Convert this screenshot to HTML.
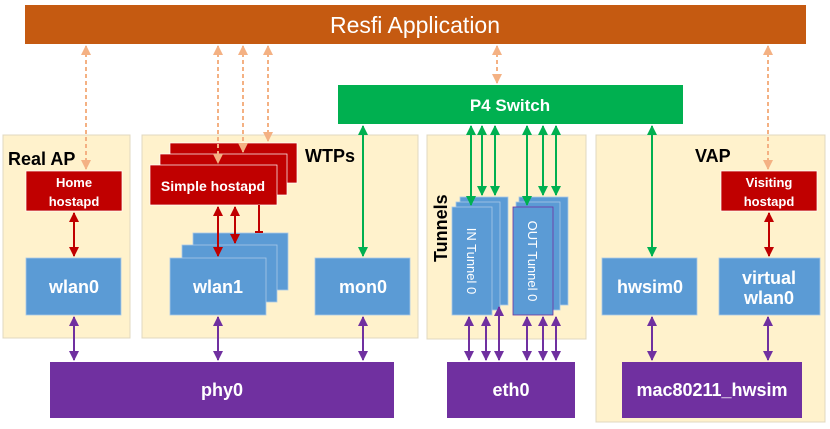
<!DOCTYPE html>
<html><head><meta charset="utf-8"><style>body{margin:0;background:#fff}svg{display:block}text{font-family:"Liberation Sans",sans-serif;font-weight:bold}</style></head><body>
<svg width="830" height="429" viewBox="0 0 830 429" xmlns="http://www.w3.org/2000/svg">
<defs>
<marker id="ao" viewBox="0 0 10 10" refX="9" refY="5" markerWidth="5" markerHeight="5" orient="auto-start-reverse"><path d="M0,0L10,5L0,10z" fill="#F4B183"/></marker>
<marker id="ag" viewBox="0 0 10 10" refX="9" refY="5" markerWidth="5" markerHeight="5" orient="auto-start-reverse"><path d="M0,0L10,5L0,10z" fill="#00B050"/></marker>
<marker id="ar" viewBox="0 0 10 10" refX="9" refY="5" markerWidth="5" markerHeight="5" orient="auto-start-reverse"><path d="M0,0L10,5L0,10z" fill="#C00000"/></marker>
<marker id="ap" viewBox="0 0 10 10" refX="9" refY="5" markerWidth="5" markerHeight="5" orient="auto-start-reverse"><path d="M0,0L10,5L0,10z" fill="#7030A0"/></marker>
</defs>
<rect x="25" y="5" width="781" height="39" fill="#C55A11"/>
<text x="415" y="33" font-size="23" fill="#fff" text-anchor="middle" style="font-weight:normal">Resfi Application</text>
<rect x="338" y="85" width="345" height="39" fill="#00B050"/>
<text x="510" y="111" font-size="17" fill="#fff" text-anchor="middle">P4 Switch</text>
<g fill="#FFF2CC" stroke="#E0D8C0">
<rect x="3" y="135" width="127" height="203"/>
<rect x="142" y="135" width="276" height="203"/>
<rect x="427" y="135" width="159" height="204"/>
<rect x="596" y="135" width="229" height="287"/>
</g>
<text x="8" y="165" font-size="18" fill="#000">Real AP</text>
<text x="305" y="162" font-size="18" fill="#000">WTPs</text>
<text x="695" y="162" font-size="18" fill="#000">VAP</text>
<text transform="translate(447,262) rotate(-90)" font-size="18" fill="#000">Tunnels</text>
<g fill="#C00000" stroke="#fff" stroke-width="0.7">
<rect x="26" y="171" width="96" height="40"/>
<rect x="170" y="143" width="127" height="40"/>
<rect x="160" y="154" width="127" height="41"/>
<rect x="150" y="165" width="127" height="40"/>
<rect x="721" y="171" width="96" height="40"/>
</g>
<g fill="#fff" font-size="13" text-anchor="middle">
<text x="74" y="187">Home</text><text x="74" y="206">hostapd</text>
<text x="213" y="191" font-size="14">Simple hostapd</text>
<text x="769" y="187">Visiting</text><text x="769" y="206">hostapd</text>
</g>
<g fill="#5B9BD5" stroke="#A9C8E8" stroke-width="0.8">
<rect x="26" y="258" width="95" height="57"/>
<rect x="193" y="233" width="95" height="57"/>
<rect x="182" y="245" width="95" height="57"/>
<rect x="170" y="258" width="96" height="57"/>
<rect x="315" y="258" width="95" height="57"/>
<rect x="460" y="197" width="48" height="108"/>
<rect x="456" y="202" width="44" height="108"/>
<rect x="452" y="207" width="40" height="108"/>
<rect x="519" y="197" width="49" height="108"/>
<rect x="516" y="202" width="44" height="108"/>
<rect x="602" y="258" width="95" height="57"/>
<rect x="719" y="258" width="101" height="57"/>
</g>
<rect x="513" y="207" width="40" height="108" fill="#5B9BD5" stroke="#7030A0" stroke-width="0.8"/>
<g fill="#fff" font-size="18" text-anchor="middle">
<text x="74" y="293">wlan0</text>
<text x="218" y="293">wlan1</text>
<text x="363" y="293">mon0</text>
<text x="650" y="293">hwsim0</text>
<text x="769" y="284">virtual</text><text x="769" y="304">wlan0</text>
</g>
<text transform="translate(467,261) rotate(90)" font-size="13" fill="#fff" text-anchor="middle" style="font-weight:normal">IN Tunnel 0</text>
<text transform="translate(528,261) rotate(90)" font-size="13" fill="#fff" text-anchor="middle" style="font-weight:normal">OUT Tunnel 0</text>
<g fill="#7030A0">
<rect x="50" y="362" width="344" height="56"/>
<rect x="447" y="362" width="128" height="56"/>
<rect x="622" y="362" width="180" height="56"/>
</g>
<g fill="#fff" font-size="18" text-anchor="middle">
<text x="222" y="396">phy0</text><text x="511" y="396">eth0</text><text x="712" y="396">mac80211_hwsim</text>
</g>
<g stroke="#F4B183" stroke-width="2" stroke-dasharray="4,3" marker-start="url(#ao)" marker-end="url(#ao)">
<line x1="86" y1="46" x2="86" y2="169"/>
<line x1="218" y1="46" x2="218" y2="163"/>
<line x1="243" y1="46" x2="243" y2="152"/>
<line x1="268" y1="46" x2="268" y2="141"/>
<line x1="497" y1="46" x2="497" y2="83"/>
<line x1="768" y1="46" x2="768" y2="169"/>
</g>
<g stroke="#00B050" stroke-width="2" marker-start="url(#ag)" marker-end="url(#ag)">
<line x1="363" y1="126" x2="363" y2="256"/>
<line x1="652" y1="126" x2="652" y2="256"/>
<line x1="471" y1="126" x2="471" y2="205"/>
<line x1="482" y1="126" x2="482" y2="195"/>
<line x1="495" y1="126" x2="495" y2="195"/>
<line x1="527" y1="126" x2="527" y2="205"/>
<line x1="543" y1="126" x2="543" y2="195"/>
<line x1="556" y1="126" x2="556" y2="195"/>
</g>
<g stroke="#C00000" stroke-width="2" marker-start="url(#ar)" marker-end="url(#ar)">
<line x1="74" y1="213" x2="74" y2="256"/>
<line x1="218" y1="207" x2="218" y2="256"/>
<line x1="235" y1="207" x2="235" y2="243"/>
<line x1="769" y1="213" x2="769" y2="256"/>
</g>
<line x1="259" y1="205" x2="259" y2="232" stroke="#C00000" stroke-width="2"/>
<line x1="255" y1="232" x2="263" y2="232" stroke="#C00000" stroke-width="2"/>
<g stroke="#7030A0" stroke-width="2" marker-start="url(#ap)" marker-end="url(#ap)">
<line x1="74" y1="317" x2="74" y2="360"/>
<line x1="218" y1="317" x2="218" y2="360"/>
<line x1="363" y1="317" x2="363" y2="360"/>
<line x1="469" y1="317" x2="469" y2="360"/>
<line x1="486" y1="317" x2="486" y2="360"/>
<line x1="499" y1="307" x2="499" y2="360"/>
<line x1="527" y1="317" x2="527" y2="360"/>
<line x1="543" y1="317" x2="543" y2="360"/>
<line x1="556" y1="317" x2="556" y2="360"/>
<line x1="652" y1="317" x2="652" y2="360"/>
<line x1="768" y1="317" x2="768" y2="360"/>
</g>
</svg>
</body></html>
